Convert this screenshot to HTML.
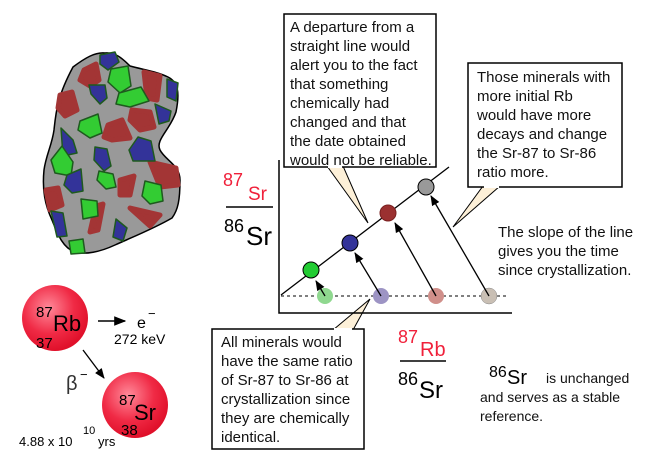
<!DOCTYPE html>
<html><head><meta charset="utf-8"><style>
body{margin:0;background:#fff;}
svg{display:block;font-family:"Liberation Sans",sans-serif;}
.b{font-size:15px;fill:#111;}
</style></head><body>
<svg width="649" height="463" viewBox="0 0 649 463" xmlns="http://www.w3.org/2000/svg">
<defs>
<radialGradient id="rg" cx="40%" cy="35%" r="65%">
<stop offset="0" stop-color="#ff8a9a"/><stop offset="0.6" stop-color="#f02a45"/><stop offset="1" stop-color="#e0102a"/>
</radialGradient>
<marker id="ar" viewBox="0 0 10 10" refX="9" refY="5" markerWidth="8" markerHeight="8" orient="auto"><path d="M0,1 L10,5 L0,9 Z" fill="#000"/></marker>
</defs>
<!-- rock -->
<path d="M73,67 C85,58 95,52 105,53 C115,52 122,58 130,66 C145,70 158,72 168,77 C178,82 180,92 176,112 C170,130 155,140 160,150 C165,160 180,165 180,180 C180,200 178,210 172,218 C155,228 135,236 115,245 C100,252 85,255 75,252 C63,248 58,235 52,220 C45,205 42,190 44,170 C46,155 52,145 54,130 C56,110 58,95 73,67 Z" fill="#999" stroke="#000" stroke-width="1.5"/>
<g stroke-linejoin="round">
<g fill="#a33535" stroke="#a33535" stroke-width="5">
<path d="M84,70 L96,64 L99,80 L90,86 L80,80Z"/>
<path d="M144,72 L160,76 L157,100 L147,98Z"/>
<path d="M60,95 L72,92 L77,110 L65,116 L58,108Z"/>
<path d="M132,110 L150,112 L154,127 L140,130 L130,120Z"/>
<path d="M108,125 L122,120 L130,138 L112,140 L104,137Z"/>
<path d="M150,162 L176,168 L178,185 L160,187Z"/>
<path d="M120,180 L134,176 L130,195 L120,195Z"/>
<path d="M46,190 L58,188 L62,205 L50,210Z"/>
<path d="M96,206 L103,204 L98,230 L90,232Z"/>
<path d="M130,208 L160,215 L150,226Z"/>
</g>
<g stroke="#1e5a1e" stroke-width="1.5">
<path d="M100,55 L115,52 L119,62 L108,70 L100,64Z" fill="#333399"/>
<path d="M111,69 L128,66 L131,86 L120,93 L108,82Z" fill="#33cc33"/>
<path d="M119,93 L141,87 L149,101 L130,107 L116,104Z" fill="#33cc33"/>
<path d="M89,85 L105,85 L107,98 L100,104 L91,94Z" fill="#333399"/>
<path d="M167,79 L178,83 L176,101 L167,97Z" fill="#333399"/>
<path d="M155,104 L171,111 L169,121 L159,124Z" fill="#333399"/>
<path d="M80,121 L98,114 L102,133 L90,138 L78,130Z" fill="#33cc33"/>
<path d="M61,128 L73,140 L77,153 L63,156Z" fill="#333399"/>
<path d="M138,137 L151,141 L155,161 L133,161 L129,150Z" fill="#333399"/>
<path d="M95,147 L107,149 L111,166 L104,171 L94,160Z" fill="#333399"/>
<path d="M51,160 L62,146 L73,162 L71,176 L55,173Z" fill="#33cc33"/>
<path d="M67,175 L81,169 L83,191 L72,193 L64,185Z" fill="#333399"/>
<path d="M99,171 L113,174 L116,187 L106,189 L97,180Z" fill="#33cc33"/>
<path d="M145,181 L161,185 L163,201 L150,204 L142,196Z" fill="#33cc33"/>
<path d="M81,199 L97,201 L98,216 L83,219Z" fill="#33cc33"/>
<path d="M51,211 L63,213 L67,236 L57,237Z" fill="#333399"/>
<path d="M116,219 L127,228 L123,241 L113,237Z" fill="#333399"/>
<path d="M69,241 L83,239 L85,253 L71,254Z" fill="#33cc33"/>
</g>
</g>
<!-- callout boxes -->
<polygon points="327,166 343,166 368,223" fill="#fdf0d8" stroke="#000"/>
<rect x="284" y="14" width="152" height="153" fill="#fff" stroke="#000" stroke-width="1.5"/>
<line x1="328" y1="167" x2="342" y2="167" stroke="#fff" stroke-width="2"/>
<polygon points="483,186 500,186 453,227" fill="#fdf0d8" stroke="#000"/>
<rect x="468" y="63" width="154" height="124" fill="#fff" stroke="#000" stroke-width="1.5"/>
<line x1="484" y1="187" x2="499" y2="187" stroke="#fff" stroke-width="2"/>
<polygon points="333,330 353,330 370,299" fill="#fdf0d8" stroke="#000"/>
<rect x="212" y="329" width="152" height="120" fill="#fff" stroke="#000" stroke-width="1.5"/>
<line x1="334" y1="329" x2="352" y2="329" stroke="#fff" stroke-width="2"/>
<g class="b">
<text x="290" y="32">A departure from a</text>
<text x="290" y="51">straight line would</text>
<text x="290" y="70">alert you to the fact</text>
<text x="290" y="89">that something</text>
<text x="290" y="108">chemically had</text>
<text x="290" y="127">changed and that</text>
<text x="290" y="146">the date obtained</text>
<text x="290" y="165">would not be reliable.</text>
<text x="477" y="82">Those minerals with</text>
<text x="477" y="101">more initial Rb</text>
<text x="477" y="120">would have more</text>
<text x="477" y="139">decays and change</text>
<text x="477" y="158">the Sr-87 to Sr-86</text>
<text x="477" y="177">ratio more.</text>
<text x="221" y="347">All minerals would</text>
<text x="221" y="366">have the same ratio</text>
<text x="221" y="385">of Sr-87 to Sr-86 at</text>
<text x="221" y="404">crystallization since</text>
<text x="221" y="423">they are chemically</text>
<text x="221" y="442">identical.</text>
<text x="498" y="237">The slope of the line</text>
<text x="498" y="256">gives you the time</text>
<text x="498" y="275">since crystallization.</text>
</g>
<!-- axes -->
<polyline points="279,160 279,313 512,313" fill="none" stroke="#000" stroke-width="1.5"/>
<line x1="281" y1="296" x2="508" y2="296" stroke="#000" stroke-dasharray="3,3"/>
<line x1="281" y1="295" x2="449" y2="167" stroke="#000" stroke-width="1.3"/>
<circle cx="325" cy="296" r="8" fill="#8fd88f"/>
<circle cx="381" cy="296" r="8" fill="#9d94c4"/>
<circle cx="436" cy="296" r="8" fill="#d08f8a"/>
<circle cx="489" cy="296" r="8" fill="#c9bfb4" stroke="#888" stroke-width="0.5"/>
<g stroke="#000" stroke-width="1.3" marker-end="url(#ar)">
<line x1="325" y1="296" x2="316" y2="281"/>
<line x1="381" y1="296" x2="355" y2="253"/>
<line x1="436" y1="296" x2="395" y2="223"/>
<line x1="489" y1="296" x2="431" y2="196"/>
</g>
<circle cx="311" cy="270" r="8" fill="#22cc33" stroke="#000"/>
<circle cx="350" cy="243" r="8" fill="#333399" stroke="#000"/>
<circle cx="388" cy="213" r="8" fill="#9b3030" stroke="#7a2020"/>
<circle cx="426" cy="187" r="8" fill="#999" stroke="#000"/>
<!-- y label -->
<text x="223" y="186" font-size="18" fill="#f0203a">87</text>
<text x="248" y="200" font-size="19" fill="#f0203a">Sr</text>
<line x1="226" y1="207" x2="273" y2="207" stroke="#000" stroke-width="1.5"/>
<text x="224" y="232" font-size="18" fill="#000">86</text>
<text x="246" y="245" font-size="26" fill="#000">Sr</text>
<!-- x label -->
<text x="398" y="343" font-size="18" fill="#f0203a">87</text>
<text x="420" y="356" font-size="20" fill="#f0203a">Rb</text>
<line x1="400" y1="361" x2="446" y2="361" stroke="#000" stroke-width="1.5"/>
<text x="398" y="385" font-size="18" fill="#000">86</text>
<text x="419" y="398" font-size="24" fill="#000">Sr</text>
<text x="489" y="377" font-size="16" fill="#000">86</text>
<text x="507" y="384" font-size="20" fill="#000">Sr</text>
<text x="546" y="383" font-size="14" fill="#111">is unchanged</text>
<text x="480" y="402" font-size="14" fill="#111">and serves as a stable</text>
<text x="480" y="421" font-size="14" fill="#111">reference.</text>
<!-- nuclei -->
<circle cx="55" cy="318" r="33" fill="url(#rg)"/>
<text x="36" y="317" font-size="15">87</text>
<text x="53" y="331" font-size="22">Rb</text>
<text x="36" y="348" font-size="15">37</text>
<line x1="98" y1="321" x2="125" y2="321" stroke="#000" stroke-width="1.5" marker-end="url(#ar)"/>
<text x="137" y="328" font-size="16">e</text>
<text x="148" y="318" font-size="13">−</text>
<text x="114" y="344" font-size="14">272 keV</text>
<line x1="83" y1="350" x2="104" y2="378" stroke="#000" stroke-width="1.3" marker-end="url(#ar)"/>
<text x="66" y="390" font-size="20" fill="#333">β</text>
<text x="80" y="379" font-size="13">−</text>
<circle cx="135" cy="405" r="33" fill="url(#rg)"/>
<text x="119" y="405" font-size="15">87</text>
<text x="134" y="420" font-size="22">Sr</text>
<text x="121" y="435" font-size="15">38</text>
<text x="19" y="446" font-size="13">4.88 x 10</text>
<text x="83" y="434" font-size="11">10</text>
<text x="98" y="446" font-size="13">yrs</text>
</svg>
</body></html>
